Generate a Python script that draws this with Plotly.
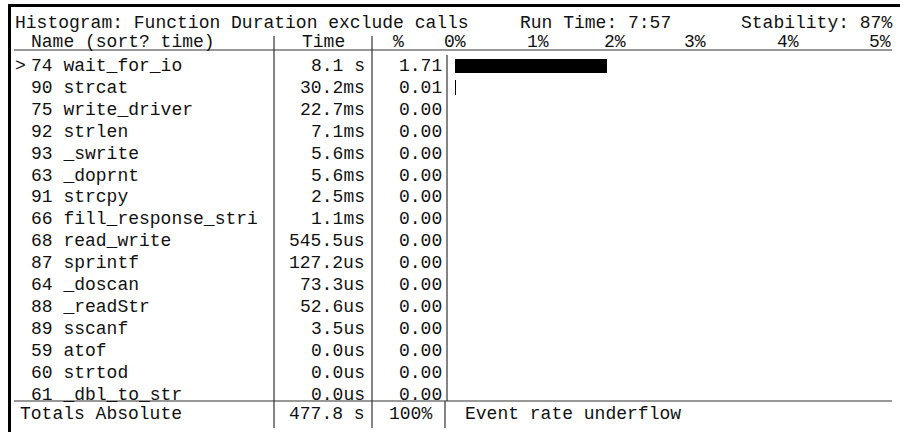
import plotly.graph_objects as go

# ---------------- data ----------------
func_ids = [74, 90, 75, 92, 93, 63, 91, 66, 68, 87, 64, 88, 89, 59, 60, 61]
func_names = ["wait_for_io", "strcat", "write_driver", "strlen", "_swrite", "_doprnt",
              "strcpy", "fill_response_stri", "read_write", "sprintf", "_doscan",
              "_readStr", "sscanf", "atof", "strtod", "_dbl_to_str"]
func_times = ["8.1 s", "30.2ms", "22.7ms", "7.1ms", "5.6ms", "5.6ms", "2.5ms", "1.1ms",
              "545.5us", "127.2us", "73.3us", "52.6us", "3.5us", "0.0us", "0.0us", "0.0us"]
func_pcts = [1.71, 0.01, 0.00, 0.00, 0.00, 0.00, 0.00, 0.00,
             0.00, 0.00, 0.00, 0.00, 0.00, 0.00, 0.00, 0.00]
scale_labels = ["0%", "1%", "2%", "3%", "4%", "5%"]
title_text = "Histogram: Function Duration exclude calls"
run_time_text = "Run Time: 7:57"
stability_text = "Stability: 87%"
header_name = "Name (sort? time)"
header_time = "Time"
header_pct = "%"
totals_label = "Totals Absolute"
totals_time = "477.8 s"
totals_pct = "100%"
status_text = "Event rate underflow"
selected_row = 0

# ---------------- layout helpers ----------------
W, H = 900, 432
FONT = "Liberation Mono, DejaVu Sans Mono, monospace"
FS = 18
INK = "#111111"
ROW0_PX, ROW_STEP = 66.0, 21.9


def px(x):
    return x / W


def py(y):
    return 1 - y / H


n = len(func_names)
rows = list(range(n))

fig = go.Figure()
fig.add_trace(go.Bar(
    x=func_pcts, y=rows, orientation="h", width=0.68,
    marker=dict(color="#000000", line=dict(width=0)),
    hoverinfo="skip", showlegend=False,
))

ann = []


def text(x, y, s, anchor="left", yref="paper"):
    ann.append(dict(x=px(x), y=(py(y) if yref == "paper" else y), xref="paper", yref=yref,
                    text=s, showarrow=False, xanchor=anchor, yanchor="middle",
                    font=dict(family=FONT, size=FS, color=INK)))


# title row
text(13, 23, title_text)
text(518, 23, run_time_text)
text(894, 23, stability_text, "right")
# header row
text(29, 42, header_name)
text(323, 42, header_time, "center")
text(398, 42, header_pct, "center")
for lab, xr in zip(scale_labels, [468, 551, 628, 708, 801, 893]):
    text(xr, 42, lab, "right")

# data rows (vertical position through the y axis)
for i in rows:
    if i == selected_row:
        text(13, i, ">", yref="y")
    text(29, i, f"{func_ids[i]} {func_names[i]}", yref="y")
    text(367, i, func_times[i], "right", yref="y")
    text(444, i, f"{func_pcts[i]:.2f}", "right", yref="y")

# totals row
text(18, 414, totals_label)
text(367, 414, totals_time, "right")
text(434, 414, totals_pct, "right")
text(463, 414, status_text)

shapes = []


def line(x0, y0, x1, y1, w=1.2, c="#333333"):
    shapes.append(dict(type="line", xref="paper", yref="paper",
                       x0=px(x0), y0=py(y0), x1=px(x1), y1=py(y1),
                       line=dict(color=c, width=w)))


line(8.5, 5.5, 900, 5.5, 3, "#000000")    # top border
line(9.5, 4, 9.5, 432, 3, "#000000")      # left border
line(14, 50, 892, 50)                      # header underline
line(14, 401, 892, 401)                    # bottom of rows
line(274, 36, 274, 428)                    # name | time
line(372, 36, 372, 428)                    # time | %
line(447, 55, 447, 401)                    # bar axis
line(445, 401, 445, 428)                   # totals separator

# y axis: row index -> screen pixel
y_top = (0 - ROW0_PX) / ROW_STEP
y_bot = (H - ROW0_PX) / ROW_STEP

fig.update_layout(
    width=W, height=H,
    margin=dict(l=0, r=0, t=0, b=0),
    paper_bgcolor="white", plot_bgcolor="rgba(0,0,0,0)",
    xaxis=dict(domain=[455 / W, 1], range=[0, 5.0],
               visible=False, fixedrange=True),
    yaxis=dict(domain=[0, 1], range=[y_bot, y_top], visible=False, fixedrange=True),
    annotations=ann, shapes=shapes, bargap=0, hovermode=False,
)

fig.write_html(
    "out.html",
    config={"displayModeBar": False, "staticPlot": True},
    post_script="document.body.style.margin='0';document.body.style.overflow='hidden';",
)
